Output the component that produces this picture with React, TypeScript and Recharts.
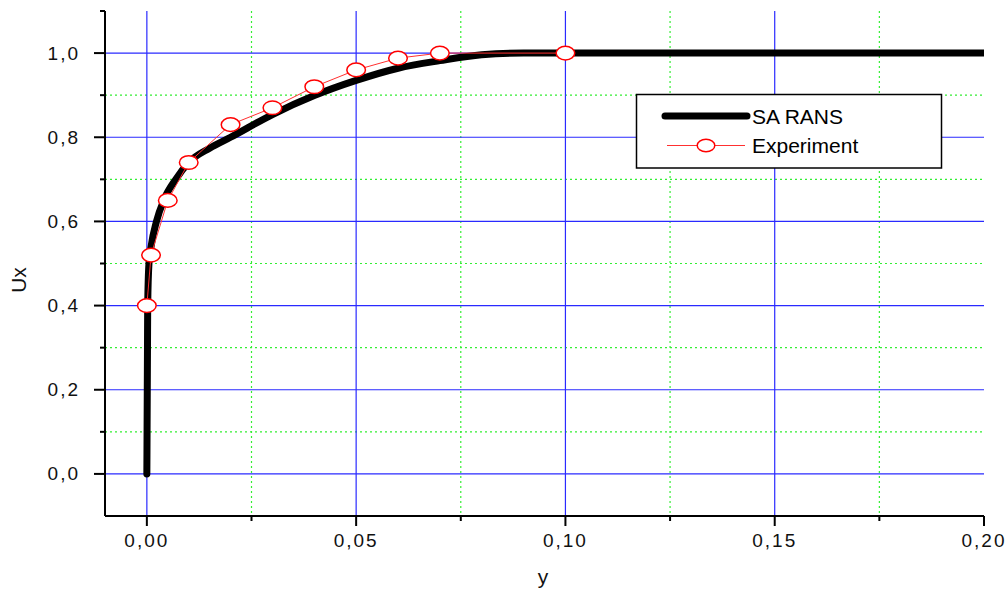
import React from 'react';
import { LineChart, Line, XAxis, YAxis, CartesianGrid } from 'recharts';

// ---- data ----
const ransY = [0, 0.00005, 0.0001, 0.00015, 0.0002, 0.0005, 0.001, 0.0023, 0.0041, 0.0069, 0.0101, 0.015, 0.02, 0.03, 0.04, 0.05, 0.06, 0.07, 0.08, 0.09, 0.1, 0.15, 0.2];
const ransU = [0, 0.1, 0.2, 0.3, 0.4, 0.5, 0.54, 0.6, 0.652, 0.7, 0.741, 0.774, 0.8, 0.854, 0.899, 0.935, 0.964, 0.982, 0.996, 1.0, 1.0, 1.0, 1.0];

const expY = [0, 0.001, 0.005, 0.01, 0.02, 0.03, 0.04, 0.05, 0.06, 0.07, 0.1];
const expU = [0.4, 0.52, 0.65, 0.74, 0.83, 0.87, 0.92, 0.96, 0.988, 1.0, 1.0];

const xMajor = [0, 0.05, 0.1, 0.15, 0.2];
const xMinor = [0.025, 0.075, 0.125, 0.175];
const yMajor = [0, 0.2, 0.4, 0.6, 0.8, 1.0];
const yMinor = [0.1, 0.3, 0.5, 0.7, 0.9, 1.1];

const seriesNames = ['SA RANS', 'Experiment'];

const ransData = ransY.map((y, i) => ({ y, u: ransU[i] }));
const expData = expY.map((y, i) => ({ y, u: expU[i] }));

const X_DOMAIN: [number, number] = [-0.01, 0.2];
const Y_DOMAIN: [number, number] = [-0.1, 1.1];

const FONT = "Arial, 'Liberation Sans', sans-serif";
const BLUE = '#2a2aff';
const GREEN = '#33ee33';

const isMajorX = (v: number) => xMajor.some((m) => Math.abs(m - v) < 1e-9);
const isMajorY = (v: number) => yMajor.some((m) => Math.abs(m - v) < 1e-9);

const mapX = (props: any, vals: number[]) => {
  const sc = props?.xAxis?.scale;
  if (typeof sc === 'function') return vals.map((v) => sc(v));
  const o = props.offset;
  return vals.map((v) => o.left + ((v - X_DOMAIN[0]) / (X_DOMAIN[1] - X_DOMAIN[0])) * o.width);
};
const mapY = (props: any, vals: number[]) => {
  const sc = props?.yAxis?.scale;
  if (typeof sc === 'function') return vals.map((v) => sc(v));
  const o = props.offset;
  return vals.map((v) => o.top + ((Y_DOMAIN[1] - v) / (Y_DOMAIN[1] - Y_DOMAIN[0])) * o.height);
};

const XTick = (props: any) => {
  const { x, y, payload } = props;
  const v = payload.value as number;
  const major = isMajorX(v);
  return (
    <g>
      <line x1={x} x2={x} y1={y} y2={y + (major ? 10 : 5)} stroke="#000" strokeWidth={2} />
      {major && (
        <text x={x} y={y + 31} textAnchor="middle" fontFamily={FONT} fontSize={19} letterSpacing={2} fill="#111">
          {v.toFixed(2).replace('.', ',')}
        </text>
      )}
    </g>
  );
};

const YTick = (props: any) => {
  const { x, y, payload } = props;
  const v = payload.value as number;
  const major = isMajorY(v);
  return (
    <g>
      <line x1={x - (major ? 11 : 5)} x2={x} y1={y} y2={y} stroke="#000" strokeWidth={2} />
      {major && (
        <text x={x - 25} y={y + 6.5} textAnchor="end" fontFamily={FONT} fontSize={19} letterSpacing={2} fill="#111">
          {v.toFixed(1).replace('.', ',')}
        </text>
      )}
    </g>
  );
};

const ExpDot = (props: any) => {
  const { cx, cy, index } = props;
  return <ellipse key={`d${index}`} cx={cx} cy={cy} rx={9.3} ry={6.8} fill="#fff" stroke="#ff0000" strokeWidth={1.5} />;
};

export default function App() {
  return (
    <div style={{ position: 'absolute', left: 0, top: 0, width: 1008, height: 589 }}>
      <LineChart width={1008} height={589} margin={{ top: 11, right: 24, left: 0, bottom: 0 }}>
        <CartesianGrid
          stroke={GREEN}
          strokeDasharray="2 3"
          strokeWidth={1.2}
          horizontalCoordinatesGenerator={(p: any) => mapY(p, yMinor.filter((v) => v < 1.05))}
          verticalCoordinatesGenerator={(p: any) => mapX(p, xMinor)}
        />
        <CartesianGrid
          stroke={BLUE}
          strokeWidth={1.2}
          horizontalCoordinatesGenerator={(p: any) => mapY(p, yMajor)}
          verticalCoordinatesGenerator={(p: any) => mapX(p, xMajor.filter((v) => v < 0.19))}
        />
        <XAxis
          dataKey="y"
          type="number"
          domain={X_DOMAIN}
          allowDataOverflow
          ticks={[...xMajor, ...xMinor].sort((a, b) => a - b)}
          interval={0}
          tickSize={0}
          tickMargin={0}
          tick={<XTick />}
          height={73}
          axisLine={{ stroke: '#000', strokeWidth: 2 }}
          label={{
            content: () => (
              <text x={543} y={584} textAnchor="middle" fontFamily={FONT} fontSize={21} fill="#111">y</text>
            ),
          }}
        />
        <YAxis
          dataKey="u"
          type="number"
          domain={Y_DOMAIN}
          allowDataOverflow
          ticks={[...yMajor, ...yMinor].sort((a, b) => a - b)}
          interval={0}
          tickSize={0}
          tickMargin={0}
          tick={<YTick />}
          width={105}
          axisLine={{ stroke: '#000', strokeWidth: 2 }}
          label={{
            content: () => (
              <text x={26} y={280} transform="rotate(-90 26 280)" textAnchor="middle" fontFamily={FONT} fontSize={21} fill="#111">Ux</text>
            ),
          }}
        />
        <Line
          data={ransData}
          dataKey="u"
          name={seriesNames[0]}
          type="monotone"
          stroke="#000"
          strokeWidth={7}
          strokeLinecap="round"
          dot={false}
          isAnimationActive={false}
        />
        <Line
          data={expData}
          dataKey="u"
          name={seriesNames[1]}
          type="linear"
          stroke="#ff3030"
          strokeWidth={1}
          dot={<ExpDot />}
          isAnimationActive={false}
        />
      </LineChart>
      <svg width={1008} height={589} style={{ position: 'absolute', left: 0, top: 0, pointerEvents: 'none' }}>
        <rect x={636.5} y={94.5} width={305} height={73.5} fill="#fff" stroke="#000" strokeWidth={1.5} />
        <line x1={665} x2={747} y1={116} y2={116} stroke="#000" strokeWidth={7} strokeLinecap="round" />
        <text x={752} y={123.5} fontFamily={FONT} fontSize={21} fill="#000">{seriesNames[0]}</text>
        <line x1={667} x2={745} y1={145.5} y2={145.5} stroke="#ff3030" strokeWidth={1} />
        <ellipse cx={706} cy={145.5} rx={8.8} ry={6.3} fill="#fff" stroke="#ff0000" strokeWidth={1.5} />
        <text x={752} y={152.5} fontFamily={FONT} fontSize={21} fill="#000">{seriesNames[1]}</text>
      </svg>
    </div>
  );
}
